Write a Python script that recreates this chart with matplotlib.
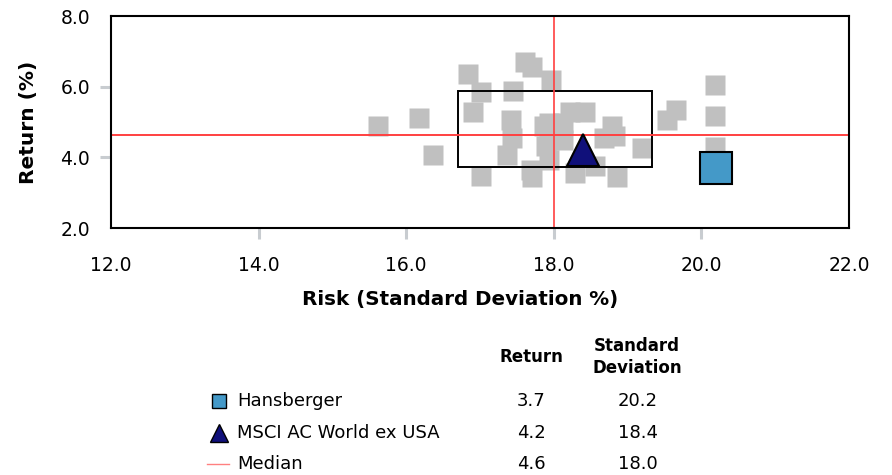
import matplotlib
matplotlib.use("Agg")
import matplotlib.pyplot as plt
from matplotlib.patches import Rectangle

plt.rcParams['font.family'] = ['DejaVu Sans']

# peer universe (standard deviation %, return %)
peer_sd = [15.62, 16.17, 16.36, 16.84, 17.01, 16.90, 17.01, 17.61, 17.70, 17.96,
           17.45, 17.42, 17.44, 17.37, 17.69, 17.70, 17.87, 17.90, 17.93, 17.93,
           17.93, 18.12, 18.12, 18.22, 18.42, 18.29, 18.56, 18.86, 18.79, 18.83,
           18.68, 19.19, 19.54, 19.65, 20.19, 20.19, 20.19]
peer_ret = [4.89, 5.12, 4.06, 6.36, 5.85, 5.29, 3.47, 6.70, 6.57, 6.18,
            5.89, 5.06, 4.54, 4.07, 3.64, 3.44, 4.89, 4.32, 3.93, 4.96,
            4.49, 4.98, 4.50, 5.29, 5.29, 3.55, 3.75, 3.44, 4.89, 4.59,
            4.55, 4.27, 5.06, 5.34, 6.05, 5.16, 4.30]

names = ['Hansberger', 'MSCI AC World ex USA', 'Median']
ret = [3.7, 4.2, 4.6]
sd = [20.2, 18.4, 18.0]
median_ret_exact = 4.64

# interquartile box (sd low/high, return low/high)
box_sd = [16.70, 19.33]
box_ret = [3.74, 5.88]

xticks = [12.0, 14.0, 16.0, 18.0, 20.0, 22.0]
yticks = [2.0, 4.0, 6.0, 8.0]

fig = plt.figure(figsize=(8.92, 4.75), dpi=100)
ax = fig.add_axes([111 / 892, 1 - 228 / 475, (849 - 111) / 892, (228 - 16) / 475])

ax.plot(peer_sd, peer_ret, ls='none', marker='s', ms=13.7, color='#c0c0c0',
        mec='none', zorder=1)
ax.add_patch(Rectangle((box_sd[0], box_ret[0]), box_sd[1] - box_sd[0],
                       box_ret[1] - box_ret[0], fill=False, ec='black', lw=1.4, zorder=2))
ax.axvline(sd[2], color='#ff4040', lw=1.2, zorder=3)
ax.axhline(median_ret_exact, color='#ff4040', lw=1.4, zorder=3)
ax.plot(sd[1], ret[1], marker='^', ms=23, color='#10107a', mec='black', mew=1.5,
        ls='none', zorder=4)
ax.plot(sd[0], ret[0], marker='s', ms=23, color='#4499c8', mec='black', mew=1.5,
        ls='none', zorder=4)

ax.set_xlim(12, 22)
ax.set_ylim(2, 8)
ax.set_xticks(xticks)
ax.set_yticks(yticks)
ax.set_xticklabels([f'{v:.1f}' for v in xticks])
ax.set_yticklabels([f'{v:.1f}' for v in yticks])
ax.tick_params(axis='x', length=8, width=2.2, color='#c8ccd0', pad=12, labelsize=13.5)
ax.tick_params(axis='y', length=8, width=2.2, color='#c8ccd0', pad=7, labelsize=13.5)
for t in [ax.xaxis.get_major_ticks()[0], ax.xaxis.get_major_ticks()[-1],
          ax.yaxis.get_major_ticks()[0], ax.yaxis.get_major_ticks()[-1]]:
    t.tick1line.set_visible(False)
for s in ax.spines.values():
    s.set_linewidth(1.5)
    s.set_zorder(5)

ax.set_ylabel('Return (%)', fontsize=14.5, fontweight='bold', labelpad=16)
fig.text(460 / 892, 1 - 300 / 475, 'Risk (Standard Deviation %)', ha='center',
         va='center', fontsize=14.3, fontweight='bold')

# legend table
lax = fig.add_axes([0, 0, 1, 1])
lax.set_xlim(0, 892)
lax.set_ylim(475, 0)
lax.axis('off')

row_y = [401, 433, 464]
fig.text(531 / 892, 1 - 357 / 475, 'Return', ha='center', va='center',
         fontsize=12, fontweight='bold')
fig.text(637 / 892, 1 - 357 / 475, 'Standard\nDeviation', ha='center', va='center',
         fontsize=12, fontweight='bold', linespacing=1.35)

lax.plot(219, row_y[0], marker='s', ms=10.5, color='#4499c8', mec='black', mew=1.0)
lax.plot(219, row_y[1], marker='^', ms=12.5, color='#10107a', mec='black', mew=1.0)
lax.plot([207, 229], [row_y[2], row_y[2]], color='#ff8080', lw=1.0)

for i, name in enumerate(names):
    y = 1 - row_y[i] / 475
    fig.text(237 / 892, y, name, ha='left', va='center', fontsize=13)
    fig.text(531 / 892, y, f'{ret[i]:.1f}', ha='center', va='center', fontsize=13)
    fig.text(638 / 892, y, f'{sd[i]:.1f}', ha='center', va='center', fontsize=13)

fig.savefig('out.png', dpi=100)
